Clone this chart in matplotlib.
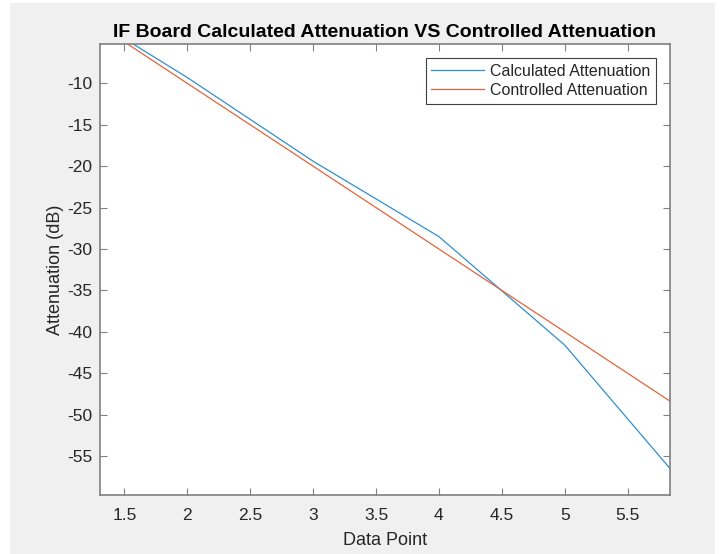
import numpy as np
import matplotlib
matplotlib.use('Agg')
import matplotlib.pyplot as plt
from matplotlib.patches import Rectangle
from matplotlib.ticker import FuncFormatter

# data points
data_point = [1, 2, 3, 4, 5, 6]
calculated = [0.1, -9.3, -19.4, -28.5, -41.6, -59.4]
controlled = [0, -10, -20, -30, -40, -50]

x_ticks = [1.5, 2, 2.5, 3, 3.5, 4, 4.5, 5, 5.5]
y_ticks = [-55, -50, -45, -40, -35, -30, -25, -20, -15, -10]

plt.rcParams['font.family'] = ['Liberation Sans', 'DejaVu Sans']

fig = plt.figure(figsize=(7.24, 5.54), dpi=100, facecolor='white')
# matlab figure background
fig.patches.append(Rectangle((10/724, 0), 705/724, 551/554, transform=fig.transFigure,
                             facecolor='#f0f0f0', edgecolor='none', zorder=-10))

ax = fig.add_axes([100/724, 59/554, 570/724, 451/554])
ax.set_facecolor('white')

ax.plot(data_point, calculated, color='#2f8fd0', lw=0.9, label='Calculated Attenuation')
ax.plot(data_point, controlled, color='#e0663a', lw=0.9, label='Controlled Attenuation')

ax.set_xlim(1.306, 5.837)
ax.set_ylim(-59.7, -5.25)
ax.set_xticks(x_ticks)
ax.set_yticks(y_ticks)
ax.xaxis.set_major_formatter(FuncFormatter(lambda v, p: '%g' % v))
ax.yaxis.set_major_formatter(FuncFormatter(lambda v, p: '%g' % v))

for s in ax.spines.values():
    s.set_color('#808080')
    s.set_linewidth(1.2)
ax.tick_params(direction='in', length=5, width=0.8, color='#808080',
               top=True, right=True, labelsize=12.5, labelcolor='#262626')
ax.tick_params(axis='x', pad=9.5)
ax.tick_params(axis='y', pad=5.5)

ax.set_title('IF Board Calculated Attenuation VS Controlled Attenuation',
             fontsize=14, fontweight='bold', color='black', pad=5)
ax.set_xlabel('Data Point', fontsize=13, color='#262626', labelpad=6)
ax.set_ylabel('Attenuation (dB)', fontsize=13, color='#262626', labelpad=2)

leg = ax.legend(loc='upper right', fontsize=11.5, fancybox=False, framealpha=1,
                edgecolor='#404040', handlelength=3.3, handletextpad=0.35,
                borderpad=0.35, labelspacing=0.25, borderaxespad=0.9)
leg.get_frame().set_linewidth(0.8)
for t in leg.get_texts():
    t.set_color('#262626')

fig.savefig('out.png', dpi=100, facecolor=fig.get_facecolor())
